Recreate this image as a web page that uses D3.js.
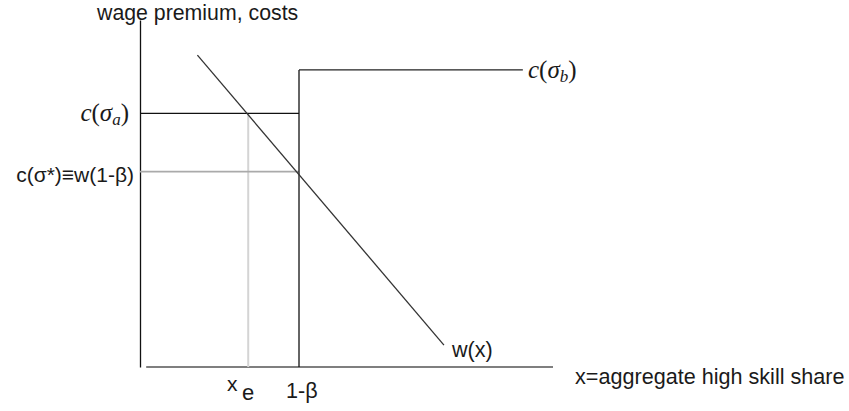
<!DOCTYPE html>
<html>
<head>
<meta charset="utf-8">
<script src="https://cdn.jsdelivr.net/npm/d3@7/dist/d3.min.js"></script>
<style>
html,body{margin:0;padding:0;background:#fff;}
svg{display:block;}
</style>
</head>
<body>
<script>
// ---- data (abstract units) ----
const yAxisLabel = "wage premium, costs";
const xAxisLabel = "x=aggregate high skill share";
const xDomain = [0, 1];
const yDomain = [0, 1];
const xAxisStart = 0.015;
const xE = 0.262;            // x_e
const oneMinusBeta = 0.385;  // 1-β
const cSigmaA = 0.731;       // c(σa)
const cSigmaStar = 0.563;    // c(σ*) ≡ w(1-β)
const cSigmaB = 0.856;       // c(σb)
const cSigmaBEnd = 0.927;
const wLineX = [0.139, 0.736];
const wLineY = [0.899, 0.063];

const W = 849, H = 411;
const svg = d3.select("body").append("svg").attr("width", W).attr("height", H);

const x = d3.scaleLinear().domain(xDomain).range([140, 553]);
const y = d3.scaleLinear().domain(yDomain).range([367, 20]);

const sans = "'Liberation Sans', Arial, sans-serif";
const serif = "'Liberation Serif', 'Times New Roman', serif";
const txt = "#1a1a1a";
const fs = 21.6;

function seg(x1, y1, x2, y2, color, w) {
  svg.append("line")
    .attr("x1", x(x1)).attr("y1", y(y1))
    .attr("x2", x(x2)).attr("y2", y(y2))
    .attr("stroke", color).attr("stroke-width", w || 1.3);
}

// y axis
svg.append("g").attr("transform", `translate(${x(0)},0)`)
  .call(d3.axisLeft(y).tickValues([]).tickSizeOuter(0))
  .call(g => g.select(".domain").attr("stroke", "#111").attr("stroke-width", 1.3));
// x axis
seg(xAxisStart, 0, 1, 0, "#555", 1.6);

// light gray x_e vertical
seg(xE, 0, xE, cSigmaA, "#d4d4d4", 2);
// gray c(σ*) horizontal
seg(0, cSigmaStar, oneMinusBeta, cSigmaStar, "#aaaaaa", 1.6);
// c(σa) horizontal
seg(0, cSigmaA, oneMinusBeta, cSigmaA, "#111", 1.2);
// 1-β vertical
seg(oneMinusBeta, 0, oneMinusBeta, cSigmaB, "#111", 1.3);
// c(σb) horizontal
seg(oneMinusBeta, cSigmaB, cSigmaBEnd, cSigmaB, "#222", 1.2);
// w(x) line
seg(wLineX[0], wLineY[0], wLineX[1], wLineY[1], "#333", 1.3);

// labels
svg.append("text").attr("x", 97).attr("y", 19.5)
  .attr("font-family", sans).attr("font-size", 21.3).attr("fill", txt)
  .text(yAxisLabel);

svg.append("text").attr("x", 575).attr("y", 384)
  .attr("font-family", sans).attr("font-size", fs).attr("fill", txt)
  .text(xAxisLabel);

svg.append("text").attr("x", 452).attr("y", 357)
  .attr("font-family", sans).attr("font-size", fs).attr("fill", txt)
  .text("w(x)");

svg.append("text").attr("x", 286).attr("y", 398)
  .attr("font-family", sans).attr("font-size", fs).attr("fill", txt)
  .text("1-β");

const xe = svg.append("text").attr("font-family", sans).attr("fill", txt);
xe.append("tspan").attr("x", 227).attr("y", 391).attr("font-size", 21).text("x");
xe.append("tspan").attr("x", 242).attr("y", 400).attr("font-size", 22).text("e");

svg.append("text").attr("x", 134).attr("y", 182).attr("text-anchor", "end")
  .attr("font-family", sans).attr("font-size", 21).attr("fill", txt)
  .text("c(σ*)≡w(1-β)");

function mathLabel(px, py, sub, anchor) {
  const t = svg.append("text").attr("x", px).attr("y", py)
    .attr("text-anchor", anchor)
    .attr("font-family", serif).attr("font-size", 25).attr("fill", txt);
  t.append("tspan").attr("font-style", "italic").text("c");
  t.append("tspan").text("(");
  t.append("tspan").attr("font-style", "italic").text("σ");
  t.append("tspan").attr("font-style", "italic").attr("font-size", 17).attr("dy", 4).text(sub);
  t.append("tspan").attr("dy", -4).text(")");
}
mathLabel(129, 121, "a", "end");
mathLabel(528, 78, "b", "start");
</script>
</body>
</html>
